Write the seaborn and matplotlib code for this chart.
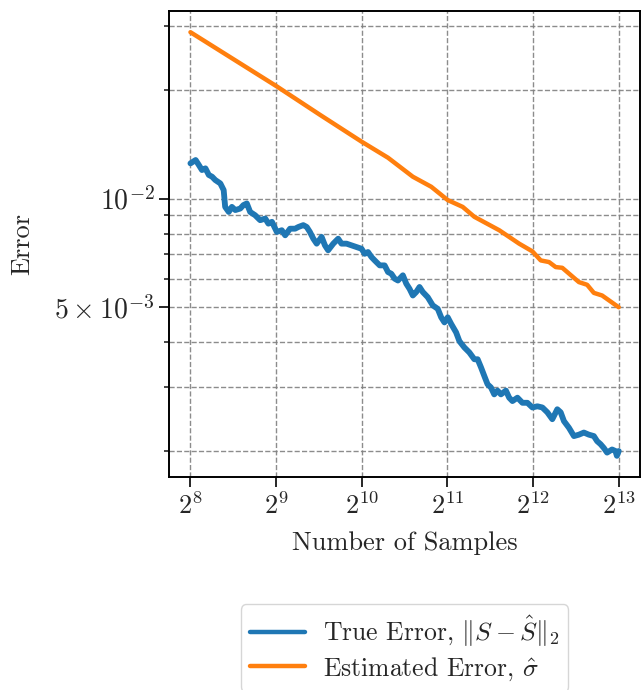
import numpy as np
import pandas as pd
import matplotlib
matplotlib.use("Agg")
import matplotlib.pyplot as plt
import seaborn as sns

# true error ||S - S_hat||_2
true_n = [256, 267, 274, 281, 289, 297, 305, 313, 326, 335, 339, 349, 358, 368, 383,
          393, 404, 415, 432, 450, 469, 481, 495, 515, 536, 551, 573, 597, 613, 638,
          656, 673, 692, 711, 740, 760, 780, 813, 846, 869, 905, 942, 981, 1022, 1049,
          1077, 1107, 1137, 1184, 1232, 1266, 1301, 1336, 1372, 1428, 1468, 1508, 1548,
          1591, 1634, 1678, 1747, 1819, 1894, 1947, 1999, 2053, 2110, 2197, 2256, 2349,
          2445, 2546, 2615, 2687, 2759, 2834, 2912, 2991, 3072, 3157, 3287, 3375, 3466,
          3609, 3757, 3912, 4073, 4240, 4415, 4596, 4785, 4982, 5120, 5258, 5474, 5700,
          5934, 6178, 6432, 6697, 6877, 7068, 7259, 7454, 7761, 7976, 8069, 8192]
true_err = [0.01251, 0.01278, 0.01238, 0.01199, 0.01212, 0.01162, 0.01149, 0.01125,
            0.01101, 0.01055, 0.00948, 0.00918, 0.00948, 0.00929, 0.00938, 0.00959,
            0.00969, 0.00918, 0.00899, 0.00871, 0.00880, 0.00852, 0.00862, 0.00808,
            0.00817, 0.00791, 0.00825, 0.00825, 0.00834, 0.00844, 0.00834, 0.00808,
            0.00774, 0.00750, 0.00783, 0.00742, 0.00719, 0.00750, 0.00774, 0.00750,
            0.00750, 0.00742, 0.00734, 0.00726, 0.00703, 0.00711, 0.00689, 0.00674,
            0.00653, 0.00653, 0.00626, 0.00619, 0.00600, 0.00593, 0.00613, 0.00581,
            0.00562, 0.00539, 0.00551, 0.00569, 0.00551, 0.00533, 0.00506, 0.00495,
            0.00469, 0.00454, 0.00469, 0.00450, 0.00426, 0.00403, 0.00387, 0.00375,
            0.00359, 0.00359, 0.00341, 0.00323, 0.00306, 0.00300, 0.00287, 0.00294,
            0.00287, 0.00294, 0.00281, 0.00275, 0.00281, 0.00272, 0.00272, 0.00264,
            0.00266, 0.00264, 0.00256, 0.00245, 0.00261, 0.00256, 0.00242, 0.00232,
            0.00220, 0.00222, 0.00225, 0.00222, 0.00220, 0.00213, 0.00209, 0.00204,
            0.00198, 0.00202, 0.00200, 0.00194, 0.00200]

# estimated error sigma_hat
est_n = [256, 515, 730, 1022, 1266, 1548, 1796, 2053, 2317, 2546, 3114, 3659, 4073,
         4358, 4660, 4918, 5187, 5934, 6344, 6697, 7160, 8192]
est_err = [0.02886, 0.02043, 0.01705, 0.01437, 0.01297, 0.01149, 0.01078, 0.00990,
           0.00948, 0.00890, 0.00817, 0.00750, 0.00714, 0.00674, 0.00667, 0.00646,
           0.00643, 0.00587, 0.00577, 0.00548, 0.00539, 0.00500]

x_ticks = [2**8, 2**9, 2**10, 2**11, 2**12, 2**13]
y_ticks = [1e-2, 5e-3]
y_labels = [r"$10^{-2}$", r"$5\times10^{-3}$"]

sns.set_theme(style="ticks")
plt.rcParams.update({
    "font.family": "serif",
    "font.serif": ["cmr10"],
    "mathtext.fontset": "cm",
    "axes.formatter.use_mathtext": True,
    "font.size": 19,
    "axes.labelsize": 19,
    "xtick.labelsize": 19,
    "ytick.labelsize": 20,
    "legend.fontsize": 18.5,
    "axes.linewidth": 1.4,
    "xtick.major.width": 1.4,
    "ytick.major.width": 1.4,
    "ytick.minor.width": 1.2,
    "xtick.major.size": 7,
    "ytick.major.size": 7,
    "ytick.minor.size": 3.5,
    "axes.edgecolor": "black",
})

df_true = pd.DataFrame({"n": true_n, "err": true_err})
df_est = pd.DataFrame({"n": est_n, "err": est_err})

fig = plt.figure(figsize=(6.41, 6.90), dpi=100)
ax = fig.add_axes([0.2637, 0.3087, 0.735, 0.6753])

sns.lineplot(data=df_true, x="n", y="err", ax=ax, color="#1f77b4", lw=4.2,
             label=r"True Error, $\|S - \hat{S}\|_2$")
sns.lineplot(data=df_est, x="n", y="err", ax=ax, color="#ff7f0e", lw=3.2,
             label=r"Estimated Error, $\hat{\sigma}$")

ax.set_xscale("log", base=2)
ax.set_yscale("log")
ax.set_xticks(x_ticks)
ax.set_yticks(y_ticks, labels=y_labels)
ax.yaxis.set_minor_formatter(matplotlib.ticker.NullFormatter())

ax.grid(True, which="both", ls="--", color="gray", lw=1.0, alpha=0.9)
ax.set_axisbelow(True)
ax.set_xlabel("Number of Samples", labelpad=9)
ax.set_ylabel("Error", labelpad=14)

leg = ax.legend(loc="upper center", bbox_to_anchor=(0.5, -0.246), handlelength=2.15,
                handletextpad=0.7, labelspacing=0.25, borderpad=0.35, frameon=True,
                edgecolor="0.8", fancybox=True)
for line in leg.get_lines():
    line.set_linewidth(3.2)

fig.savefig("out.png", dpi=100)
